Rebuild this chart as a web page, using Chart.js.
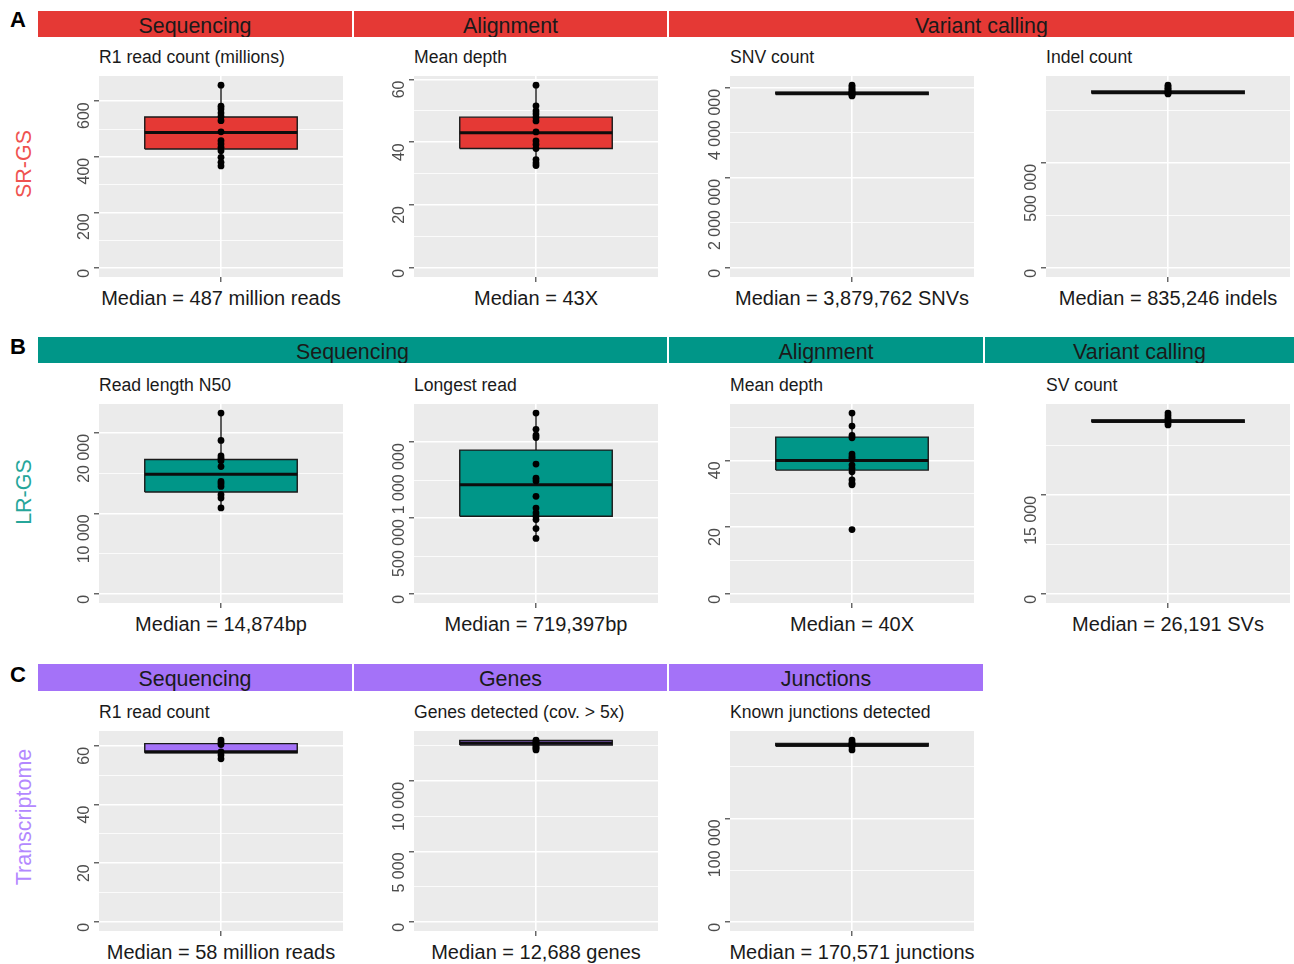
<!DOCTYPE html>
<html>
<head>
<meta charset="utf-8">
<script src="https://cdn.jsdelivr.net/npm/chart.js@4.4.1/dist/chart.umd.min.js"></script>
<style>
  html, body { margin: 0; padding: 0; background: #fff; }
  body { width: 1294px; height: 964px; position: relative; overflow: hidden;
         font-family: "Liberation Sans", Arial, sans-serif; }
  .strip { position: absolute; box-sizing: border-box; padding-top: 2px; line-height: 26px;
           text-align: center; font-size: 21.4px; color: #1a1a1a; overflow: hidden; white-space: nowrap; }
  .letter { position: absolute; font-weight: bold; font-size: 22px; line-height: 26px; color: #000; }
  .rowname { position: absolute; width: 240px; height: 26px; line-height: 26px; font-size: 21.5px;
             text-align: center; transform: rotate(-90deg); white-space: nowrap; }
  .ptitle { position: absolute; font-size: 17.6px; line-height: 20px; color: #1a1a1a; white-space: nowrap; }
  .median { position: absolute; width: 320px; font-size: 20px; line-height: 24px; color: #1a1a1a;
            text-align: center; white-space: nowrap; }
  canvas { position: absolute; }
</style>
</head>
<body>
<script>
// ---- facet labels ----
const stripLabels = [
  ['Sequencing', 'Alignment', 'Variant calling'],
  ['Sequencing', 'Alignment', 'Variant calling'],
  ['Sequencing', 'Genes', 'Junctions']
];
const rowNames = ['SR-GS', 'LR-GS', 'Transcriptome'];
const panelLetters = ['A', 'B', 'C'];
const panelTitles = [
  'R1 read count (millions)', 'Mean depth', 'SNV count', 'Indel count',
  'Read length N50', 'Longest read', 'Mean depth', 'SV count',
  'R1 read count', 'Genes detected (cov. > 5x)', 'Known junctions detected'
];

// ---- box statistics per metric ----
const medians     = [487, 43, 3879762, 835246, 14874, 719397, 40, 26191, 58, 12688, 170571];
const medianUnits = [' million reads', 'X', ' SNVs', ' indels', 'bp', 'bp', 'X', ' SVs', ' million reads', ' genes', ' junctions'];
const q1          = [428, 38.0, 3852000, 830000, 12650, 512000, 37.1, 25990, 57.7, 12550, 169800];
const q3          = [543, 48.0, 3905000, 842000, 16700, 948000, 47.0, 26360, 60.8, 12880, 172300];
const whiskerLow  = [367, 32.6, 3820000, 828000, 10680, 366000, 32.7, 25600, 55.6, 12200, 166000];
const whiskerHigh = [658, 58.2, 4060000, 870000, 22460, 1192000, 54.2, 27400, 62.0, 12900, 175500];

// ---- per-sample values ----
const srReadCount  = [658, 582, 572, 558, 545, 530, 490, 458, 446, 434, 422, 398, 380, 367];
const srMeanDepth  = [58.2, 51.6, 50.0, 49.0, 47.9, 46.8, 43.3, 40.4, 39.3, 38.0, 34.5, 33.4, 32.6];
const srSnvCount   = [4060000, 4020000, 3980000, 3950000, 3920000, 3900000, 3880000, 3860000, 3840000, 3820000];
const srIndelCount = [870000, 862000, 855000, 848000, 841000, 835000, 832000, 828000];
const lrReadN50    = [22460, 19060, 17130, 16840, 16550, 15810, 13960, 13680, 13350, 12320, 11910, 10680];
const lrLongest    = [1192000, 1085000, 1046000, 1031000, 856000, 763000, 745000, 643000, 566000, 534000, 512000, 490000, 431000, 366000];
const lrMeanDepth  = [54.2, 50.3, 47.5, 46.8, 41.9, 41.1, 40.6, 38.6, 37.6, 36.6, 34.2, 33.2, 32.7, 19.3];
const lrSvCount    = [27400, 27000, 26600, 26200, 25900, 25600];
const rnaReadCount = [62.0, 61.2, 60.5, 58.0, 56.9, 55.6];
const rnaGenes     = [12900, 12800, 12700, 12600, 12500, 12400, 12300, 12200];
const rnaJunctions = [175500, 173500, 172000, 171000, 170500, 169000, 166000];
const samplePoints = [srReadCount, srMeanDepth, srSnvCount, srIndelCount,
                      lrReadN50, lrLongest, lrMeanDepth, lrSvCount,
                      rnaReadCount, rnaGenes, rnaJunctions];

// ---- axis ticks ----
const majorTicks = [
  [0, 200, 400, 600], [0, 20, 40, 60], [0, 2000000, 4000000], [0, 500000],
  [0, 10000, 20000], [0, 500000, 1000000], [0, 20, 40], [0, 15000],
  [0, 20, 40, 60], [0, 5000, 10000], [0, 100000]
];
const minorTicks = [
  [100, 300, 500], [10, 30, 50], [1000000, 3000000], [250000, 750000],
  [5000, 15000], [250000, 750000], [10, 30, 50], [7500, 22500],
  [10, 30, 50], [2500, 7500, 12500], [50000, 150000]
];

// ---- layout ----
const ROW_TOP = [76, 404, 731];
const ROW_H = [201, 199, 200];
const COL_LEFT = [99, 414, 730, 1046];
const PANEL_W = 244;
const AXIS_W = 44;
const STRIP_TOP = [11, 337, 664];
const STRIP_H = [26, 26, 27];
const STRIP_SEGS = [
  [[38, 314], [354, 313], [669, 625]],
  [[38, 629], [669, 314], [985, 309]],
  [[38, 314], [354, 313], [669, 314]]
];
const ROW_COLORS = ['#EF5350', '#26A69A', '#B388FF'];
const FILL_COLORS = ['#E53935', '#009688', '#A472F8'];
const ROWNAME_Y = [164, 492, 817];
const LETTER_TOP = [7, 334, 662];
const PANEL_POS = [[0,0],[0,1],[0,2],[0,3],[1,0],[1,1],[1,2],[1,3],[2,0],[2,1],[2,2]];

const withCommas = v => String(v).replace(/\B(?=(\d{3})+(?!\d))/g, ',');
const withSpaces = v => String(v).replace(/\B(?=(\d{3})+(?!\d))/g, ' ');

function addDiv(cls, text, style) {
  const d = document.createElement('div');
  d.className = cls;
  d.textContent = text;
  Object.assign(d.style, style);
  document.body.appendChild(d);
  return d;
}

// facet strips, panel letters and row names
for (let r = 0; r < 3; r++) {
  STRIP_SEGS[r].forEach((seg, k) => {
    addDiv('strip', stripLabels[r][k], {
      left: seg[0] + 'px', width: seg[1] + 'px', top: STRIP_TOP[r] + 'px',
      height: STRIP_H[r] + 'px', background: FILL_COLORS[r]
    });
  });
  addDiv('letter', panelLetters[r], { left: '10px', top: LETTER_TOP[r] + 'px' });
  addDiv('rowname', rowNames[r], {
    left: (23.5 - 120) + 'px', top: (ROWNAME_Y[r] - 13) + 'px', color: ROW_COLORS[r]
  });
}

// gray panel background
const panelBackground = {
  id: 'panelBackground',
  beforeDraw(chart) {
    const { ctx, chartArea: a } = chart;
    ctx.save();
    ctx.fillStyle = '#EBEBEB';
    ctx.fillRect(a.left, a.top, a.right - a.left, a.bottom - a.top);
    ctx.restore();
  }
};

// y tick labels turned 90 degrees, hanging below each major tick
const rotatedTickLabels = {
  id: 'rotatedTickLabels',
  afterDraw(chart, args, opts) {
    const { ctx, chartArea: a } = chart;
    const y = chart.scales.y;
    ctx.save();
    ctx.font = '16px "Liberation Sans", Arial, sans-serif';
    ctx.fillStyle = '#4D4D4D';
    ctx.textAlign = 'right';
    ctx.textBaseline = 'alphabetic';
    majorTicks[opts.index].forEach(v => {
      ctx.save();
      ctx.translate(a.left - 10, y.getPixelForValue(v) + 1);
      ctx.rotate(-Math.PI / 2);
      ctx.fillText(withSpaces(v), 0, 0);
      ctx.restore();
    });
    ctx.restore();
  }
};

function buildPanel(i) {
  const [r, c] = PANEL_POS[i];
  const left = COL_LEFT[c], top = ROW_TOP[r], h = ROW_H[r];

  addDiv('ptitle', panelTitles[i], { left: left + 'px', top: (top - 28.6) + 'px' });
  addDiv('median', 'Median = ' + withCommas(medians[i]) + medianUnits[i], {
    left: (left + PANEL_W / 2 - 160) + 'px', top: (h + top + 9) + 'px'
  });

  const cv = document.createElement('canvas');
  cv.width = PANEL_W + AXIS_W;
  cv.height = h + 8;
  cv.style.left = (left - AXIS_W) + 'px';
  cv.style.top = top + 'px';
  document.body.appendChild(cv);

  const pts = samplePoints[i];
  const ymax = Math.max(whiskerHigh[i], ...pts);
  const L = 0.625, R = 1.375;
  const majors = new Set(majorTicks[i]);
  const line = (data, extra) => Object.assign({
    type: 'line', data, pointRadius: 0, borderColor: '#1a1a1a', borderWidth: 1.4,
    tension: 0, fill: false, borderJoinStyle: 'miter', spanGaps: false
  }, extra);

  new Chart(cv, {
    type: 'line',
    data: {
      datasets: [
        // 0: samples
        { type: 'line', data: pts.map(v => ({ x: 1, y: v })), showLine: false,
          pointRadius: 3.4, pointBackgroundColor: '#000', pointBorderWidth: 0, borderColor: '#000' },
        // 1: median
        line([{ x: L, y: medians[i] }, { x: R, y: medians[i] }], { borderWidth: 3, borderColor: '#0d0d0d' }),
        // 2: box outline
        line([{ x: L, y: q1[i] }, { x: R, y: q1[i] }, { x: R, y: q3[i] }, { x: L, y: q3[i] }, { x: L, y: q1[i] }]),
        // 3: whiskers
        line([{ x: 1, y: whiskerLow[i] }, { x: 1, y: q1[i] }, { x: 1, y: null },
              { x: 1, y: q3[i] }, { x: 1, y: whiskerHigh[i] }]),
        // 4: lower hinge (fill base)
        line([{ x: L, y: q1[i] }, { x: R, y: q1[i] }], { borderWidth: 0 }),
        // 5: upper hinge filled down to the lower hinge
        line([{ x: L, y: q3[i] }, { x: R, y: q3[i] }], { borderWidth: 0, fill: 4, backgroundColor: FILL_COLORS[r] })
      ]
    },
    options: {
      responsive: false,
      animation: false,
      events: [],
      layout: { padding: 0, autoPadding: false },
      plugins: {
        legend: { display: false },
        tooltip: { enabled: false },
        rotatedTickLabels: { index: i }
      },
      scales: {
        x: {
          type: 'linear', min: 0.4, max: 1.6,
          border: { display: false },
          ticks: { display: false },
          grid: { color: '#FFFFFF', lineWidth: 1.6, tickColor: '#333333', tickLength: 5, tickWidth: 1.1 },
          afterBuildTicks: s => { s.ticks = [{ value: 1 }]; },
          afterFit: s => { s.height = 8; }
        },
        y: {
          type: 'linear', min: -0.05 * ymax, max: 1.05 * ymax,
          border: { display: false },
          ticks: { display: false },
          grid: {
            color: '#FFFFFF',
            lineWidth: ctx => majors.has(ctx.tick && ctx.tick.value) ? 1.6 : 0.8,
            tickColor: ctx => majors.has(ctx.tick && ctx.tick.value) ? '#333333' : 'rgba(0,0,0,0)',
            tickLength: 5, tickWidth: 1.1
          },
          afterBuildTicks: s => {
            s.ticks = [...majorTicks[i], ...minorTicks[i]].sort((a, b) => a - b).map(v => ({ value: v }));
          },
          afterFit: s => { s.width = AXIS_W; }
        }
      }
    },
    plugins: [panelBackground, rotatedTickLabels]
  });
}

for (let i = 0; i < panelTitles.length; i++) buildPanel(i);
</script>
</body>
</html>
